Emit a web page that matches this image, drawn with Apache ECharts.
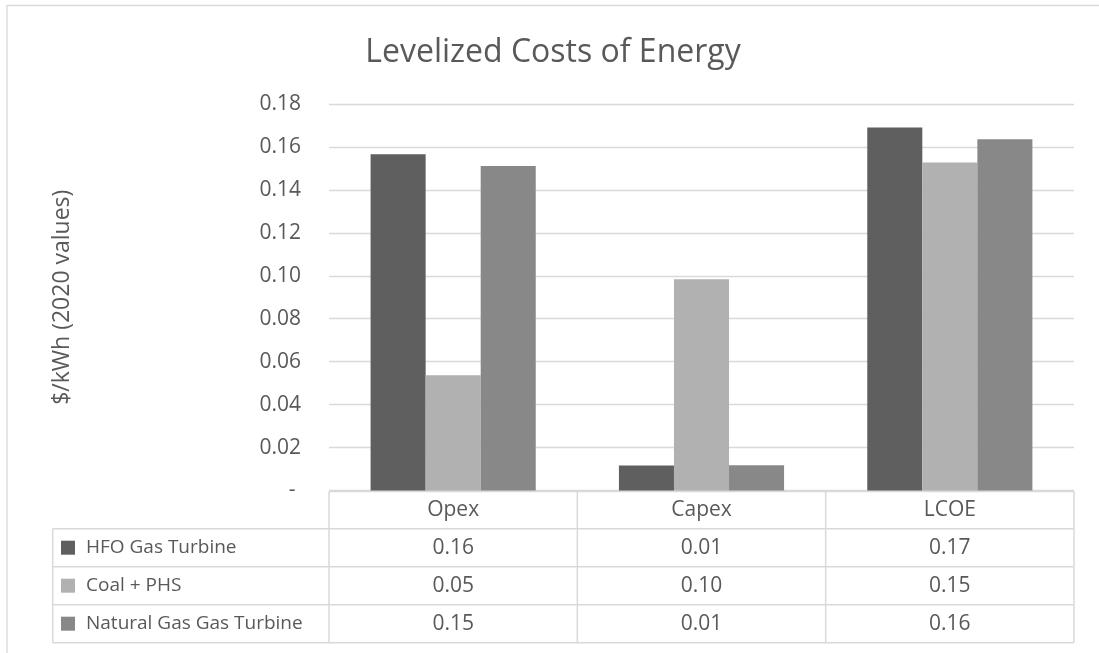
<!DOCTYPE html>
<html>
<head>
<meta charset="utf-8">
<script src="https://cdn.jsdelivr.net/npm/echarts@6/dist/echarts.min.js"></script>
<style>
html,body{margin:0;padding:0;background:#fff;}
#chart{width:1099px;height:653px;}
</style>
</head>
<body>
<div id="chart"></div>
<script>
const categories = ['Opex', 'Capex', 'LCOE'];
const seriesNames = ['HFO Gas Turbine', 'Coal + PHS', 'Natural Gas Gas Turbine'];
const hfoValues = [0.1566, 0.0117, 0.1691];
const coalValues = [0.0537, 0.0984, 0.1528];
const ngValues = [0.1511, 0.0118, 0.1636];
const yTicks = [0, 0.02, 0.04, 0.06, 0.08, 0.10, 0.12, 0.14, 0.16, 0.18];
const colors = ['#5f5f5f', '#b1b1b1', '#888888'];

const FONT = '"Open Sans", "Noto Sans", sans-serif';
const TXT = '#595959';
const LINE = '#d9d9d9';
const allValues = [hfoValues, coalValues, ngValues];

const chart = echarts.init(document.getElementById('chart'), null, {renderer: 'canvas'});
const option = {
  animation: false,
  backgroundColor: '#fff',
  textStyle: {fontFamily: FONT},
  title: {
    text: 'Levelized Costs of Energy',
    left: 548, top: 32, textAlign: 'center',
    textStyle: {fontFamily: FONT, fontSize: 32, fontWeight: 'normal', color: TXT}
  },
  grid: {left: 329, right: 25, top: 104, bottom: 162.5},
  xAxis: {
    type: 'category', data: categories,
    axisLine: {show: false}, axisTick: {show: false}, axisLabel: {show: false}
  },
  yAxis: {
    type: 'value', min: yTicks[0], max: yTicks[yTicks.length - 1], interval: 0.02,
    name: '$/kWh (2020 values)', nameLocation: 'middle', nameGap: 255,
    nameTextStyle: {fontFamily: FONT, fontSize: 23, color: TXT},
    axisLine: {show: false}, axisTick: {show: false},
    axisLabel: {
      fontFamily: FONT, fontSize: 21, color: TXT, margin: 28,
      formatter: v => (Math.abs(v) < 1e-9 ? '- ' : v.toFixed(2))
    },
    splitLine: {lineStyle: {color: LINE, width: 1.3}}
  },
  series: allValues.map((vals, i) => ({
    name: seriesNames[i], type: 'bar', data: vals,
    barGap: '0%', barCategoryGap: '33.5%',
    itemStyle: {color: colors[i]}
  }))
};
chart.setOption(option);

// data table built from axis positions
const c0 = chart.convertToPixel({xAxisIndex: 0}, categories[0]);
const c1 = chart.convertToPixel({xAxisIndex: 0}, categories[1]);
const bw = c1 - c0;
const yZero = chart.convertToPixel({yAxisIndex: 0}, 0);
const leftX = c0 - bw / 2;
const rightX = leftX + bw * categories.length;
const tableLeft = 52.7;
const headTop = yZero + 1;
const rowH = 38;
const headBottom = headTop + 37.2;
const g = [];
const lineStyle = {stroke: LINE, lineWidth: 1.5};
const hl = (x1, x2, y) => g.push({type: 'line', shape: {x1, y1: y, x2, y2: y}, style: lineStyle, silent: true});
const vl = (x, y1, y2) => g.push({type: 'line', shape: {x1: x, y1, x2: x, y2}, style: lineStyle, silent: true});
hl(leftX, rightX, headTop);
const bottomY = headBottom + rowH * seriesNames.length;
for (let r = 0; r <= seriesNames.length; r++) hl(tableLeft, rightX, headBottom + rowH * r);
for (let c = 0; c <= categories.length; c++) vl(leftX + bw * c, headTop, bottomY);
vl(tableLeft, headBottom, bottomY);
categories.forEach((cat, c) => {
  g.push({type: 'text', x: leftX + bw * (c + 0.5), y: (headTop + headBottom) / 2,
    style: {text: cat, fill: TXT, font: '21px ' + FONT, align: 'center', verticalAlign: 'middle'}});
});
seriesNames.forEach((nm, r) => {
  const cy = headBottom + rowH * (r + 0.5);
  g.push({type: 'rect', shape: {x: 61, y: cy - 7, width: 14, height: 14}, style: {fill: colors[r]}});
  g.push({type: 'text', x: 86, y: cy,
    style: {text: nm, fill: TXT, font: '19px ' + FONT, align: 'left', verticalAlign: 'middle'}});
  allValues[r].forEach((v, c) => {
    g.push({type: 'text', x: leftX + bw * (c + 0.5), y: cy,
      style: {text: v.toFixed(2), fill: TXT, font: '21px ' + FONT, align: 'center', verticalAlign: 'middle'}});
  });
});
// outer chart border (partially visible)
g.push({type: 'polyline', shape: {points: [[7, 653], [7, 5.5], [1099, 5.5]]}, style: {stroke: LINE, lineWidth: 1.3, fill: null}, silent: true});
chart.setOption({graphic: {elements: g}});
</script>
</body>
</html>
